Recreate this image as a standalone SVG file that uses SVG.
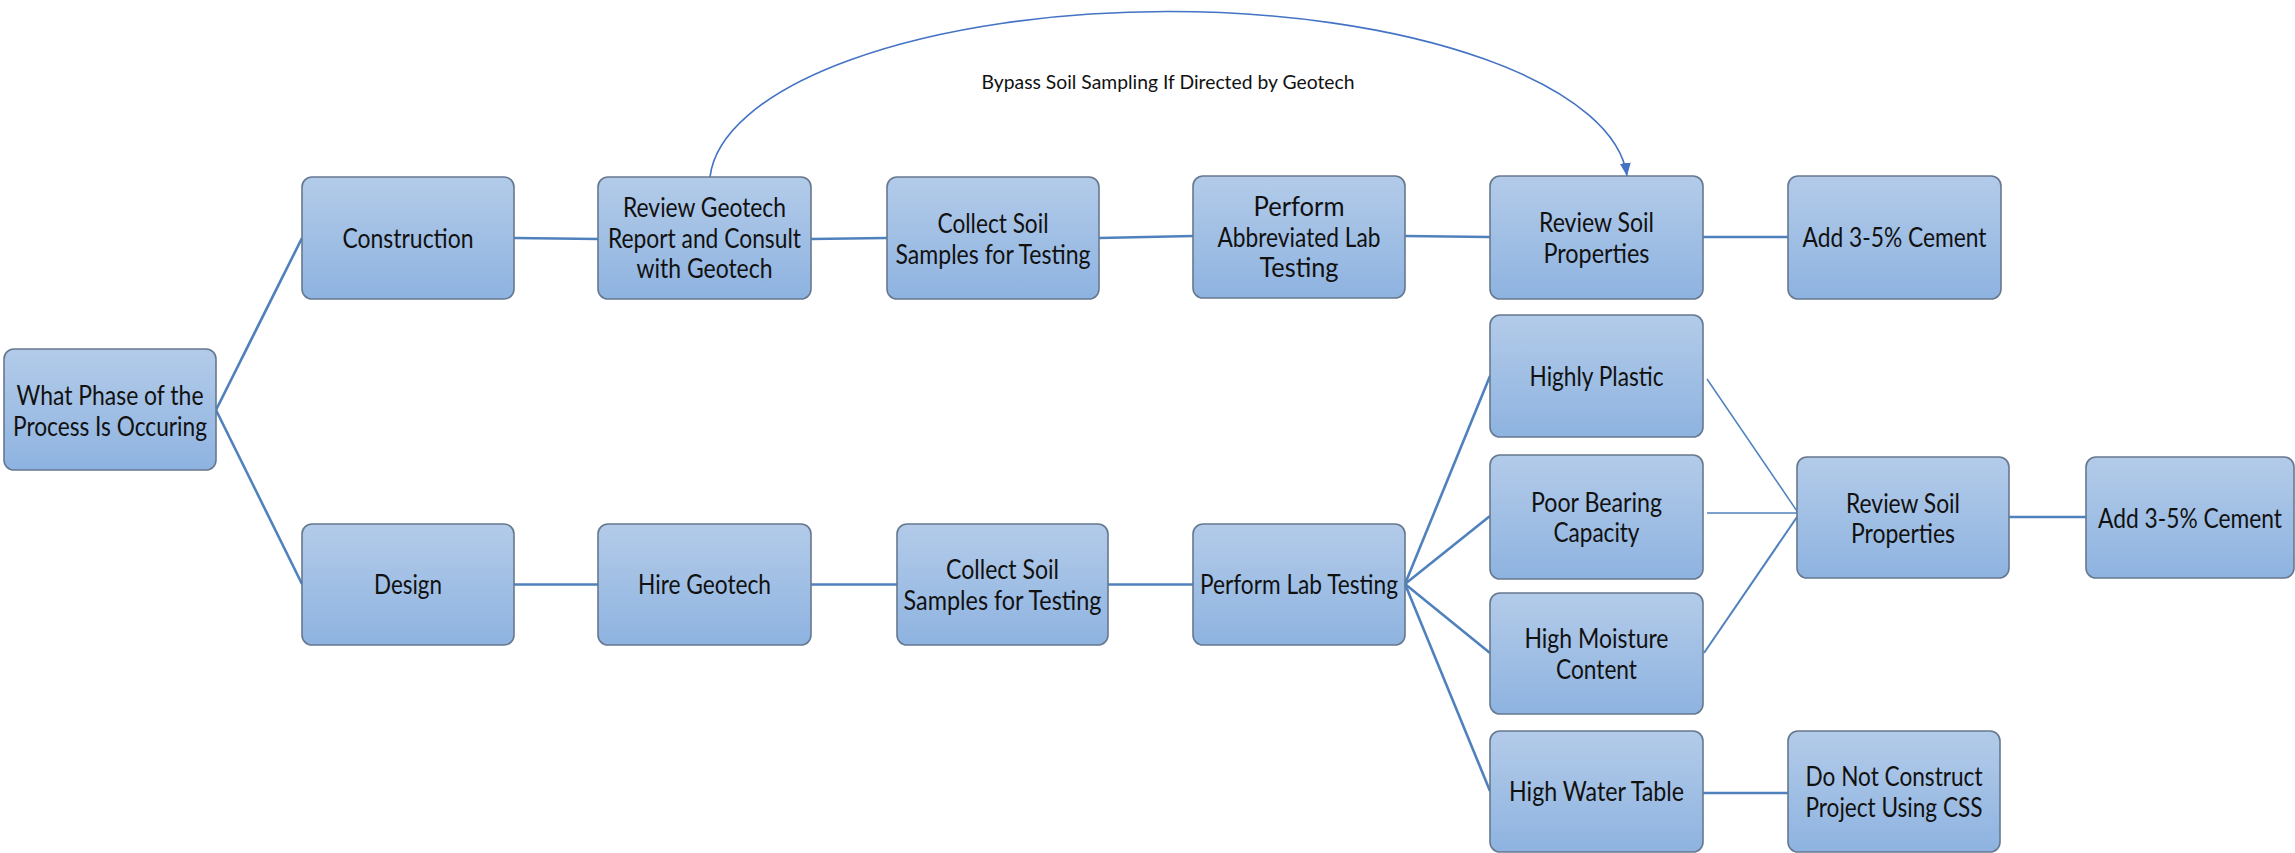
<svg xmlns="http://www.w3.org/2000/svg" width="2295" height="853" viewBox="0 0 2295 853">
<defs>
<linearGradient id="boxfill" x1="0" y1="0" x2="0" y2="1">
<stop offset="0" stop-color="#b3cbe9"/>
<stop offset="1" stop-color="#8eb3e0"/>
</linearGradient>
<marker id="arrow" markerUnits="userSpaceOnUse" markerWidth="14" markerHeight="14" viewBox="0 0 14 14" refX="13" refY="7" orient="auto">
<path d="M0,1.5 L13,7 L0,12.5 Z" fill="#4472c4"/>
</marker>
<style>
.box{fill:url(#boxfill);stroke:#66788f;stroke-width:1.6}
.t{font-family:Lato,"Liberation Sans",sans-serif;font-size:26px;fill:#111;text-anchor:middle}
.lbl{font-family:Lato,"Liberation Sans",sans-serif;font-size:19px;fill:#111;text-anchor:middle}
.c{stroke:#4f81bd;stroke-width:2.6;fill:none}
.cthin{stroke:#4f81bd;stroke-width:1.5;fill:none}
.cmed{stroke:#4f81bd;stroke-width:2;fill:none}
.arc{stroke:#4472c4;stroke-width:1.6;fill:none}
</style>
</defs>
<rect width="2295" height="853" fill="#ffffff"/>

<g id="connectors">
<line class="c" x1="216" y1="410" x2="302" y2="238"/>
<line class="c" x1="216" y1="410" x2="302" y2="584"/>
<line class="c" x1="514" y1="238" x2="598" y2="239"/>
<line class="c" x1="811" y1="239" x2="887" y2="238"/>
<line class="c" x1="1099" y1="238" x2="1193" y2="236"/>
<line class="c" x1="1405" y1="236" x2="1490" y2="237"/>
<line class="c" x1="1703" y1="237" x2="1788" y2="237"/>
<line class="c" x1="514" y1="584.5" x2="598" y2="584.5"/>
<line class="c" x1="811" y1="584.5" x2="897" y2="584.5"/>
<line class="c" x1="1108" y1="584.5" x2="1193" y2="584.5"/>
<line class="c" x1="1405" y1="584" x2="1490" y2="376"/>
<line class="c" x1="1405" y1="584" x2="1490" y2="516"/>
<line class="c" x1="1405" y1="584" x2="1490" y2="653"/>
<line class="c" x1="1405" y1="584" x2="1490" y2="791"/>
<line class="cthin" x1="1707" y1="379" x2="1799" y2="514"/>
<line class="cthin" x1="1707" y1="513" x2="1799" y2="513"/>
<line class="cmed" x1="1704" y1="653" x2="1797" y2="517"/>
<line class="c" x1="2009" y1="517" x2="2086" y2="517"/>
<line class="c" x1="1703" y1="793" x2="1788" y2="793"/>
<path class="arc" d="M710,177 A459,173 0 0 1 1627,176" marker-end="url(#arrow)"/>
<text class="lbl" x="1168" y="89" textLength="373" lengthAdjust="spacingAndGlyphs">Bypass Soil Sampling If Directed by Geotech</text>
</g>

<g id="n_phase">
<rect class="box" x="4" y="349" width="212" height="121" rx="10"/>
<text class="t" x="110" y="405" textLength="187" lengthAdjust="spacingAndGlyphs">What Phase of the</text>
<text class="t" x="110" y="435.5" textLength="194" lengthAdjust="spacingAndGlyphs">Process Is Occuring</text>
</g>

<g id="n_construction">
<rect class="box" x="302" y="177" width="212" height="122" rx="10"/>
<text class="t" x="408" y="247.5" textLength="131" lengthAdjust="spacingAndGlyphs">Construction</text>
</g>

<g id="n_review_geotech">
<rect class="box" x="598" y="177" width="213" height="122" rx="10"/>
<text class="t" x="704.5" y="216.5" textLength="163" lengthAdjust="spacingAndGlyphs">Review Geotech</text>
<text class="t" x="704.5" y="247.5" textLength="193" lengthAdjust="spacingAndGlyphs">Report and Consult</text>
<text class="t" x="704.5" y="278" textLength="136" lengthAdjust="spacingAndGlyphs">with Geotech</text>
</g>

<g id="n_collect_top">
<rect class="box" x="887" y="177" width="212" height="122" rx="10"/>
<text class="t" x="993" y="233" textLength="111" lengthAdjust="spacingAndGlyphs">Collect Soil</text>
<text class="t" x="993" y="263.5" textLength="195" lengthAdjust="spacingAndGlyphs">Samples for Testing</text>
</g>

<g id="n_perform_abbrev">
<rect class="box" x="1193" y="176" width="212" height="122" rx="10"/>
<text class="t" x="1299" y="215.5" textLength="91" lengthAdjust="spacingAndGlyphs">Perform</text>
<text class="t" x="1299" y="246.5" textLength="163" lengthAdjust="spacingAndGlyphs">Abbreviated Lab</text>
<text class="t" x="1299" y="277" textLength="79" lengthAdjust="spacingAndGlyphs">Testing</text>
</g>

<g id="n_review_soil_top">
<rect class="box" x="1490" y="176" width="213" height="123" rx="10"/>
<text class="t" x="1596.5" y="232" textLength="115" lengthAdjust="spacingAndGlyphs">Review Soil</text>
<text class="t" x="1596.5" y="262.5" textLength="106" lengthAdjust="spacingAndGlyphs">Properties</text>
</g>

<g id="n_cement_top">
<rect class="box" x="1788" y="176" width="213" height="123" rx="10"/>
<text class="t" x="1894.5" y="247" textLength="184" lengthAdjust="spacingAndGlyphs">Add 3-5% Cement</text>
</g>

<g id="n_design">
<rect class="box" x="302" y="524" width="212" height="121" rx="10"/>
<text class="t" x="408" y="594" textLength="68" lengthAdjust="spacingAndGlyphs">Design</text>
</g>

<g id="n_hire">
<rect class="box" x="598" y="524" width="213" height="121" rx="10"/>
<text class="t" x="704.5" y="594" textLength="133" lengthAdjust="spacingAndGlyphs">Hire Geotech</text>
</g>

<g id="n_collect_bottom">
<rect class="box" x="897" y="524" width="211" height="121" rx="10"/>
<text class="t" x="1002.5" y="579" textLength="113" lengthAdjust="spacingAndGlyphs">Collect Soil</text>
<text class="t" x="1002.5" y="609.5" textLength="198" lengthAdjust="spacingAndGlyphs">Samples for Testing</text>
</g>

<g id="n_lab">
<rect class="box" x="1193" y="524" width="212" height="121" rx="10"/>
<text class="t" x="1299" y="594" textLength="198" lengthAdjust="spacingAndGlyphs">Perform Lab Testing</text>
</g>

<g id="n_plastic">
<rect class="box" x="1490" y="315" width="213" height="122" rx="10"/>
<text class="t" x="1596.5" y="385.5" textLength="134" lengthAdjust="spacingAndGlyphs">Highly Plastic</text>
</g>

<g id="n_bearing">
<rect class="box" x="1490" y="455" width="213" height="124" rx="10"/>
<text class="t" x="1596.5" y="511.5" textLength="131" lengthAdjust="spacingAndGlyphs">Poor Bearing</text>
<text class="t" x="1596.5" y="542" textLength="86" lengthAdjust="spacingAndGlyphs">Capacity</text>
</g>

<g id="n_moisture">
<rect class="box" x="1490" y="593" width="213" height="121" rx="10"/>
<text class="t" x="1596.5" y="648" textLength="144" lengthAdjust="spacingAndGlyphs">High Moisture</text>
<text class="t" x="1596.5" y="678.5" textLength="81" lengthAdjust="spacingAndGlyphs">Content</text>
</g>

<g id="n_water">
<rect class="box" x="1490" y="731" width="213" height="121" rx="10"/>
<text class="t" x="1596.5" y="801" textLength="175" lengthAdjust="spacingAndGlyphs">High Water Table</text>
</g>

<g id="n_review_soil_bottom">
<rect class="box" x="1797" y="457" width="212" height="121" rx="10"/>
<text class="t" x="1903" y="512.5" textLength="114" lengthAdjust="spacingAndGlyphs">Review Soil</text>
<text class="t" x="1903" y="543" textLength="104" lengthAdjust="spacingAndGlyphs">Properties</text>
</g>

<g id="n_cement_bottom">
<rect class="box" x="2086" y="457" width="208" height="121" rx="10"/>
<text class="t" x="2190" y="527.5" textLength="184" lengthAdjust="spacingAndGlyphs">Add 3-5% Cement</text>
</g>

<g id="n_donot">
<rect class="box" x="1788" y="731" width="212" height="121" rx="10"/>
<text class="t" x="1894" y="786" textLength="177" lengthAdjust="spacingAndGlyphs">Do Not Construct</text>
<text class="t" x="1894" y="816.5" textLength="177" lengthAdjust="spacingAndGlyphs">Project Using CSS</text>
</g>
</svg>
